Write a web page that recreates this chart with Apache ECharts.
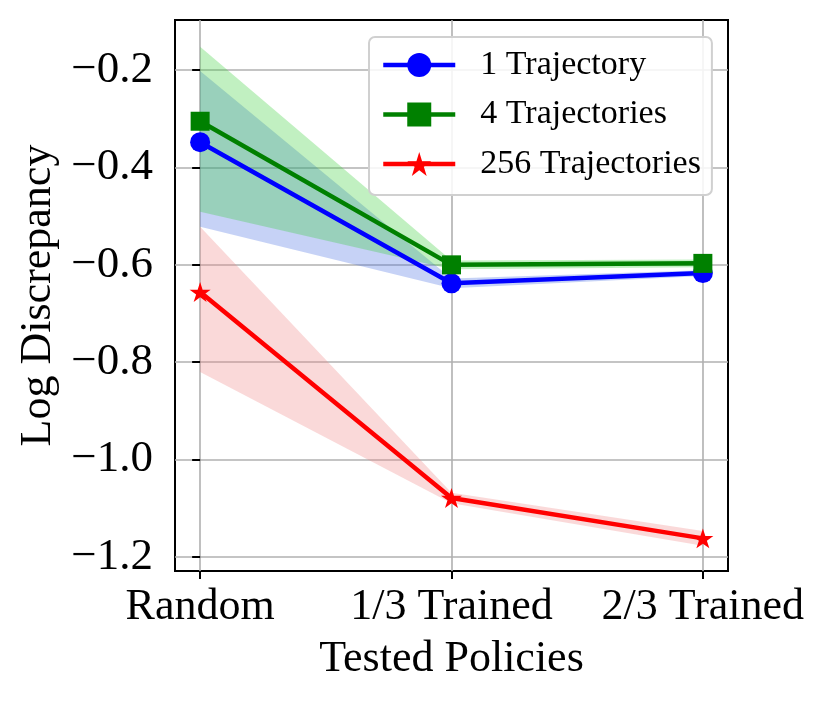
<!DOCTYPE html>
<html lang="en">
<head>
    <meta charset="UTF-8">
    <title>Log Discrepancy</title>
    <style>
        html, body { margin: 0; padding: 0; background: #fff; }
        #chart { width: 828px; height: 705px; }
    </style>
</head>
<body>
    <div id="chart"></div>
    <script src="https://cdn.jsdelivr.net/npm/echarts@6/dist/echarts.min.js"></script>
    <script>
        // data
        var categories = ['Random', '1/3 Trained', '2/3 Trained'];
        var xPos = [0, 1, 2];
        var yTicks = [-1.2, -1.0, -0.8, -0.6, -0.4, -0.2];

        var mean1 = [-0.348, -0.638, -0.617];
        var low1 = [-0.522, -0.648, -0.623];
        var high1 = [-0.202, -0.628, -0.611];

        var mean4 = [-0.305, -0.600, -0.597];
        var low4 = [-0.491, -0.609, -0.605];
        var high4 = [-0.152, -0.591, -0.589];

        var mean256 = [-0.656, -1.079, -1.162];
        var low256 = [-0.820, -1.090, -1.177];
        var high256 = [-0.522, -1.068, -1.147];

        var FONT = 'Liberation Serif';
        var STAR = 'path://M50 0L61.23 34.55L97.55 34.55L68.17 55.9L79.39 90.45L50 69.1L20.61 90.45L31.83 55.9L2.45 34.55L38.77 34.55Z';
        var LW = 4.5;

        function pts(ys) {
            return xPos.map(function (x, i) { return [x, ys[i]]; });
        }

        // shaded spread: one polygon through the upper edge and back along the lower edge
        function band(lo, hi, color) {
            return {
                type: 'custom', silent: true, z: 1,
                data: xPos.map(function (x, i) { return [x, lo[i], hi[i]]; }),
                encode: { x: 0, y: [1, 2] },
                renderItem: function (params, api) {
                    if (params.dataIndex !== 0) return null;
                    var top = xPos.map(function (x, i) { return api.coord([x, hi[i]]); });
                    var bot = xPos.map(function (x, i) { return api.coord([x, lo[i]]); }).reverse();
                    return {
                        type: 'polygon',
                        shape: { points: top.concat(bot) },
                        style: { fill: color }
                    };
                }
            };
        }

        function line(name, ys, color, symbol, size, z) {
            return {
                name: name, type: 'line', data: pts(ys),
                symbol: symbol, symbolSize: size, symbolKeepAspect: true,
                lineStyle: { color: color, width: LW },
                itemStyle: { color: color, opacity: 1 },
                emphasis: { disabled: true },
                z: z
            };
        }

        var series = [
            band(low1, high1, 'rgba(65,105,225,0.3)'),
            band(low4, high4, 'rgba(50,205,50,0.3)'),
            band(low256, high256, 'rgba(240,128,128,0.3)'),
            line('1 Trajectory', mean1, '#0000ff', 'circle', 20, 3),
            line('4 Trajectories', mean4, '#008000', 'rect', 19, 4),
            line('256 Trajectories', mean256, '#ff0000', STAR, 21, 5)
        ];

        var chart = echarts.init(document.getElementById('chart'));
        chart.setOption({
            animation: false,
            backgroundColor: '#fff',
            grid: {
                left: 175, right: 100, top: 20, bottom: 134,
                show: true, borderColor: '#000', borderWidth: 2, backgroundColor: 'transparent'
            },
            legend: {
                data: ['1 Trajectory', '4 Trajectories', '256 Trajectories'],
                orient: 'vertical',
                left: 369, top: 37,
                itemWidth: 72, itemHeight: 30, itemGap: 15.5,
                padding: [11, 11, 14, 12],
                backgroundColor: 'rgba(255,255,255,0.85)',
                borderColor: '#d0d0d0', borderWidth: 2, borderRadius: 6,
                lineStyle: { width: LW },
                textStyle: { fontFamily: FONT, fontSize: 34, color: '#000', padding: [0, 0, 0, 20] }
            },
            xAxis: {
                type: 'value', min: -0.1, max: 2.1,
                name: 'Tested Policies', nameLocation: 'middle', nameGap: 66,
                nameTextStyle: { fontFamily: FONT, fontSize: 44, color: '#000' },
                axisLine: { show: false },
                axisTick: { show: true, inside: false, length: 8, customValues: xPos, lineStyle: { color: '#000', width: 2 } },
                axisLabel: {
                    customValues: xPos, margin: 14,
                    fontFamily: FONT, fontSize: 44, color: '#000',
                    formatter: function (v) { return categories[Math.round(v)]; }
                },
                splitLine: { show: true, lineStyle: { color: '#b0b0b0', width: 1.6 } }
            },
            yAxis: {
                type: 'value', min: -1.229, max: -0.097,
                name: 'Log Discrepancy', nameLocation: 'middle', nameGap: 112,
                nameTextStyle: { fontFamily: FONT, fontSize: 44, color: '#000' },
                axisLine: { show: false },
                axisTick: { show: true, inside: false, length: 8, customValues: yTicks, lineStyle: { color: '#000', width: 2 } },
                axisLabel: {
                    customValues: yTicks, margin: 22,
                    fontFamily: FONT, fontSize: 45, color: '#000',
                    formatter: function (v) { return (v < 0 ? '\u2212' : '') + Math.abs(v).toFixed(1); }
                },
                splitLine: { show: true, lineStyle: { color: '#b0b0b0', width: 1.6 } }
            },
            series: series
        });
    </script>
</body>
</html>
